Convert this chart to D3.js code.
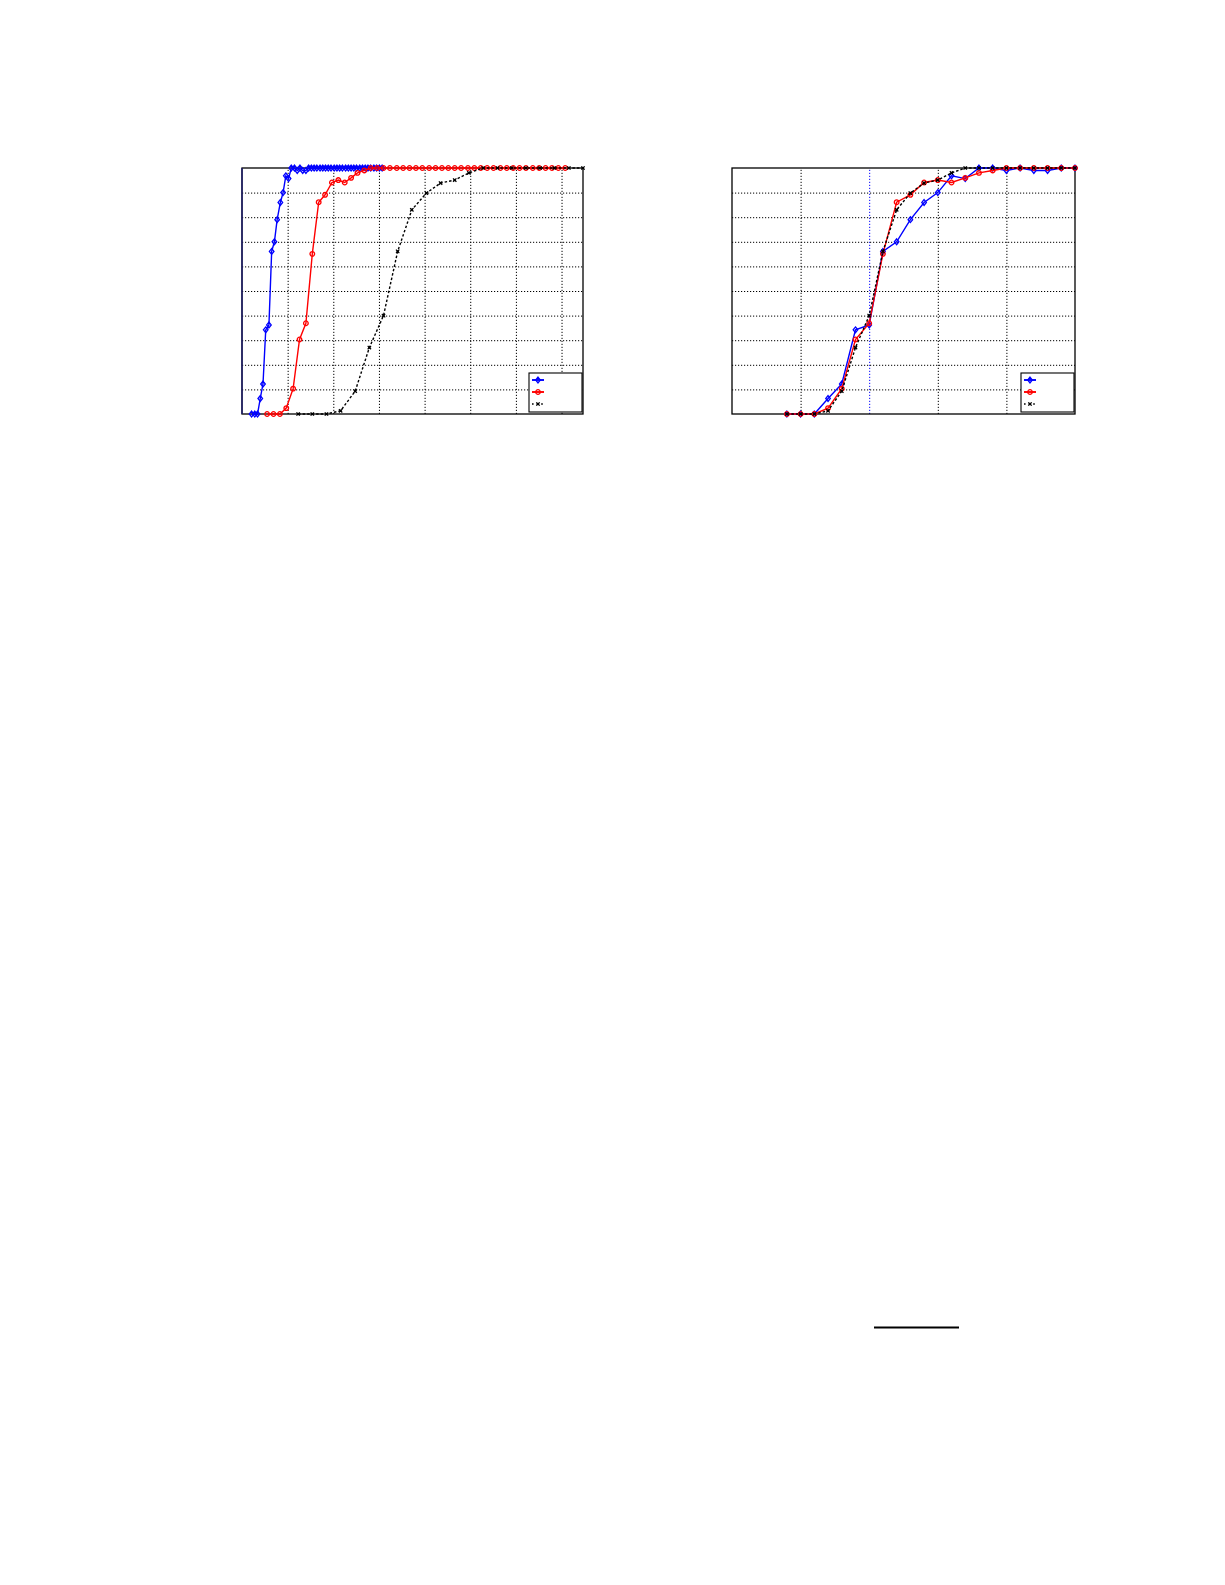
<!DOCTYPE html>
<html>
<head>
<meta charset="utf-8">
<script src="https://cdn.jsdelivr.net/npm/d3@7"></script>
<style>
  body { margin: 0; background: #fff; }
  svg { display: block; }
</style>
</head>
<body>
<div id="canvas"></div>
<script>
// y values of the three curves (same data in both panels)
const blueY = [0, 0, 0, 0.063, 0.122, 0.342, 0.362, 0.661, 0.70, 0.79, 0.86, 0.90, 0.968, 0.957, 1, 1, 0.99, 1, 0.99, 0.99, 1, 1,
  1, 1, 1, 1, 1, 1, 1, 1, 1, 1, 1, 1, 1, 1, 1, 1, 1, 1, 1, 1, 1, 1, 1, 1, 1];
const redY = [0, 0, 0, 0.024, 0.103, 0.303, 0.369, 0.651, 0.861, 0.891, 0.941, 0.951, 0.941, 0.96, 0.98, 0.99, 1, 1, 1, 1, 1, 1,
  1, 1, 1, 1, 1, 1, 1, 1, 1, 1, 1, 1, 1, 1, 1, 1, 1, 1, 1, 1, 1, 1, 1, 1, 1];
const blackY = [0, 0, 0, 0.013, 0.093, 0.27, 0.40, 0.661, 0.83, 0.898, 0.939, 0.951, 0.98, 1, 1, 1, 1, 1, 1, 1, 1, 1];

// left panel: x positions of each curve
const blueXLeft = [0.21, 0.28, 0.34, 0.40, 0.46, 0.52, 0.59, 0.65, 0.71, 0.77, 0.84, 0.90, 0.96, 1.02, 1.08, 1.15,
  1.21, 1.27, 1.33, 1.40, 1.46, 1.52, 1.58, 1.64, 1.71, 1.77, 1.83, 1.89, 1.95, 2.02, 2.08, 2.14,
  2.20, 2.27, 2.33, 2.39, 2.45, 2.51, 2.58, 2.64, 2.70, 2.76, 2.82, 2.89, 2.95, 3.01, 3.07];
const redXLeft = [0.55, 0.69, 0.83, 0.97, 1.12, 1.26, 1.40, 1.54, 1.68, 1.82, 1.97, 2.11, 2.25, 2.39, 2.53, 2.68,
  2.82, 2.96, 3.10, 3.24, 3.39, 3.53, 3.67, 3.81, 3.95, 4.10, 4.24, 4.38, 4.52, 4.66, 4.80, 4.95,
  5.09, 5.23, 5.37, 5.51, 5.66, 5.80, 5.94, 6.08, 6.22, 6.37, 6.51, 6.65, 6.79, 6.93, 7.08];
const blackXLeft = [1.23, 1.54, 1.85, 2.16, 2.48, 2.79, 3.10, 3.41, 3.72, 4.04, 4.35, 4.66, 4.97, 5.28, 5.60, 5.91,
  6.22, 6.53, 6.84, 7.16, 7.47, 7.78];

// right panel: shared x positions
const xRight = [0.8, 1.0, 1.2, 1.4, 1.6, 1.8, 2.0, 2.2, 2.4, 2.6, 2.8, 3.0, 3.2, 3.4, 3.6, 3.8, 4.0, 4.2, 4.4, 4.6, 4.8, 5.0];

const leftXTicks = [1, 2, 3, 4, 5, 6, 7];
const rightXTicks = [1, 2, 3, 4];
const yTicks = [0.1, 0.2, 0.3, 0.4, 0.5, 0.6, 0.7, 0.8, 0.9];

const svg = d3.select("#canvas").append("svg")
  .attr("width", 1225)
  .attr("height", 1585);

svg.append("rect").attr("width", 1225).attr("height", 1585).attr("fill", "#fff");

function zip(xs, ys) {
  return ys.map((v, i) => ({ x: xs[i], y: v })).filter(d => d.x !== undefined);
}

function marker(sel, kind, color) {
  if (kind === "diamond") {
    sel.append("path").attr("d", "M0,-2.9L2.3,0L0,2.9L-2.3,0Z")
      .attr("fill", "none").attr("stroke", color).attr("stroke-width", 1.3);
  } else if (kind === "circle") {
    sel.append("circle").attr("r", 2.3)
      .attr("fill", "none").attr("stroke", color).attr("stroke-width", 1.3);
  } else {
    sel.append("path").attr("d", "M-1.7,-1.7L1.7,1.7M-1.7,1.7L1.7,-1.7")
      .attr("stroke", color).attr("stroke-width", 1.2);
    sel.append("rect").attr("x", -1.1).attr("y", -1.1).attr("width", 2.2).attr("height", 2.2).attr("fill", color);
  }
}

function drawPanel(opt) {
  const g = svg.append("g").attr("transform", `translate(${opt.left},${opt.top})`);
  const x = d3.scaleLinear().domain([0, opt.xMax]).range([0, opt.width]);
  const y = d3.scaleLinear().domain([0, 1]).range([opt.height, 0]);

  // grid
  const gx = g.append("g").attr("transform", `translate(0,${opt.height})`)
    .call(d3.axisBottom(x).tickValues(opt.xTicks).tickSize(-opt.height).tickFormat(""));
  gx.select(".domain").remove();
  gx.selectAll(".tick line")
    .attr("stroke", d => d === opt.blueGrid ? "#0000ff" : "#000")
    .attr("stroke-width", 1)
    .attr("stroke-dasharray", "1.2,1.8");

  const gy = g.append("g")
    .call(d3.axisLeft(y).tickValues(yTicks).tickSize(-opt.width).tickFormat(""));
  gy.select(".domain").remove();
  gy.selectAll(".tick line")
    .attr("stroke", "#000")
    .attr("stroke-width", 1)
    .attr("stroke-dasharray", "1.2,1.8");

  // frame
  g.append("rect").attr("width", opt.width).attr("height", opt.height)
    .attr("fill", "none").attr("stroke", "#000").attr("stroke-width", 1.3);
  if (opt.navyLeft) {
    g.append("line").attr("x1", 0).attr("x2", 0).attr("y1", 0).attr("y2", opt.height)
      .attr("stroke", "#22226e").attr("stroke-width", 1.5);
  }

  const line = d3.line().x(d => x(d.x)).y(d => y(d.y));

  opt.series.forEach(s => {
    const pts = s.data.filter(d => d.x <= opt.xMax + 1e-6);
    g.append("path").datum(pts)
      .attr("d", line)
      .attr("fill", "none")
      .attr("stroke", s.color)
      .attr("stroke-width", 1.4)
      .attr("stroke-dasharray", s.dash || null);
    g.selectAll(null).data(pts).enter().append("g")
      .attr("transform", d => `translate(${x(d.x)},${y(d.y)})`)
      .each(function () { marker(d3.select(this), s.marker, s.color); });
  });

  // legend (no labels)
  const lg = g.append("g").attr("transform", `translate(${opt.width - 54},${opt.height - 41})`);
  lg.append("rect").attr("width", 53).attr("height", 39)
    .attr("fill", "#fff").attr("stroke", "#000").attr("stroke-width", 1.1);
  opt.series.forEach((s, i) => {
    const row = lg.append("g").attr("transform", `translate(0,${7 + i * 12})`);
    row.append("line").attr("x1", 3).attr("x2", 15).attr("y1", 0).attr("y2", 0)
      .attr("stroke", s.color).attr("stroke-width", s.dash ? 1.6 : 1.9)
      .attr("stroke-dasharray", s.dash ? "1.6,3" : null);
    const m = row.append("g").attr("transform", "translate(9,0)");
    marker(m, s.marker, s.color);
  });
}

drawPanel({
  left: 242, top: 168, width: 341, height: 246, xMax: 7.47,
  xTicks: leftXTicks, navyLeft: true,
  series: [
    { data: zip(blueXLeft, blueY), color: "#0000ff", marker: "diamond" },
    { data: zip(redXLeft, redY), color: "#ff0000", marker: "circle" },
    { data: zip(blackXLeft, blackY), color: "#000", marker: "x", dash: "2.5,2" }
  ]
});

drawPanel({
  left: 732, top: 168, width: 343, height: 246, xMax: 5,
  xTicks: rightXTicks, blueGrid: 2,
  series: [
    { data: zip(xRight, blueY.slice(0, xRight.length)), color: "#0000ff", marker: "diamond" },
    { data: zip(xRight, redY.slice(0, xRight.length)), color: "#ff0000", marker: "circle" },
    { data: zip(xRight, blackY.slice(0, xRight.length)), color: "#000", marker: "x", dash: "2.5,2" }
  ]
});

// short rule near the bottom of the page
svg.append("line").attr("x1", 874).attr("x2", 959).attr("y1", 1327.5).attr("y2", 1327.5)
  .attr("stroke", "#000").attr("stroke-width", 2);
</script>
</body>
</html>
